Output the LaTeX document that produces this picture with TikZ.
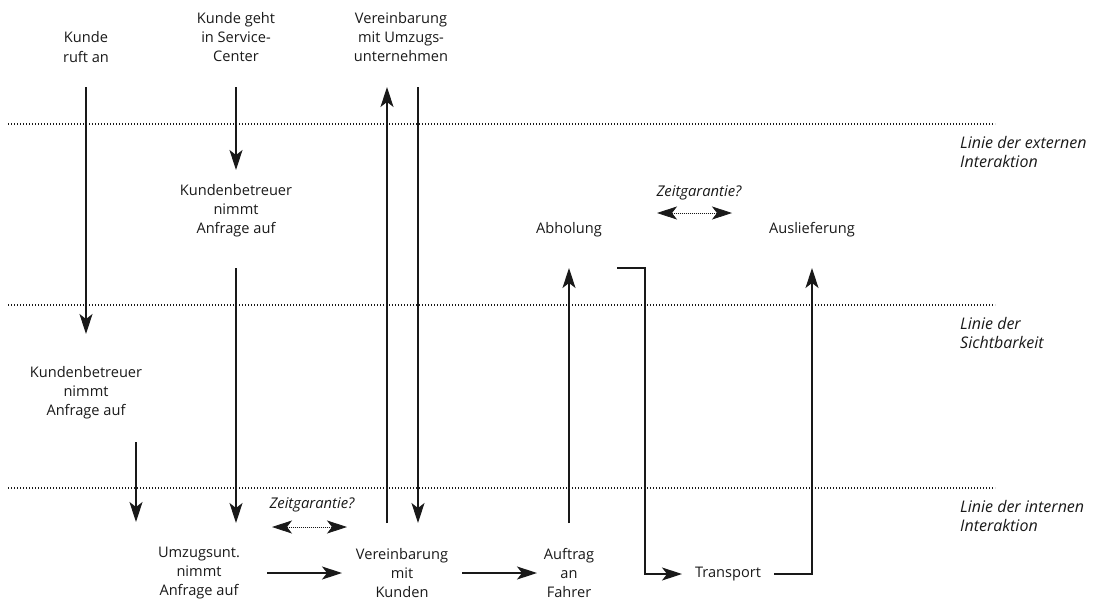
\documentclass[tikz,border=0pt]{standalone}
\usepackage{fontspec}
\setmainfont{Open Sans}
\usetikzlibrary{arrows.meta,calc}
\begin{document}
\begin{tikzpicture}[x=1pt,y=-1pt,
  lbl/.style={align=center,font=\fontsize{14.6}{19.2}\selectfont,inner sep=0pt,text=black!90},
  zg/.style={lbl,font=\fontsize{14.8}{19}\selectfont\itshape},
  side/.style={align=left,anchor=west,font=\fontsize{16}{18.5}\selectfont\itshape,inner sep=0pt,text=black!90},
  arr/.style={-{Stealth[length=20pt,width=13pt,inset=5pt]},line width=1.1pt,draw=black!90},
  sep/.style={line width=1.1pt,dash pattern=on 1.1pt off 1.9pt,draw=black!90},
  dbl/.style={{Stealth[length=20pt,width=13pt,inset=5pt]}-{Stealth[length=20pt,width=13pt,inset=5pt]},line width=0.8pt,dash pattern=on 0.8pt off 1.2pt,draw=black!90}
]
\useasboundingbox (0,0) rectangle (1096,603);
% separators
\draw[sep] (8,124) -- (995,124);
\draw[sep] (8,305) -- (995,305);
\draw[sep] (8,488) -- (995,488);
\node[side] (s1) at (960,152) {Linie der externen\\Interaktion};
\node[side] (s2) at (960,333) {Linie der\\Sichtbarkeit};
\node[side] (s3) at (960,516) {Linie der internen\\Interaktion};
% nodes
\node[lbl] (kra) at (86,47) {Kunde\\ruft an};
\node[lbl] (ksc) at (236,37) {Kunde geht\\in Service-\\Center};
\node[lbl] (vmu) at (401,37) {Vereinbarung\\mit Umzugs-\\unternehmen};
\node[lbl] (kbt) at (236,211) {Kundenbetreuer\\nimmt\\Anfrage auf};
\node[lbl] (kbl) at (86,393) {Kundenbetreuer\\nimmt\\Anfrage auf};
\node[lbl] (abh) at (569,230) {Abholung};
\node[lbl] (ausl) at (812,230) {Auslieferung};
\node[zg] (zg1) at (699,193) {Zeitgarantie?};
\node[zg] (zg2) at (312,505) {Zeitgarantie?};
\node[lbl] (umz) at (199,573) {Umzugsunt.\\nimmt\\Anfrage auf};
\node[lbl] (vmk) at (402,573) {Vereinbarung\\mit\\Kunden};
\node[lbl] (auf) at (569,573) {Auftrag\\an\\Fahrer};
\node[lbl] (tra) at (728,574) {Transport};
% connectors
\draw[arr,shorten <=40pt,shorten >=59pt] (kra.center) -- (kbl.center);
\draw[arr,shorten <=50pt,shorten >=41pt] (ksc.center) -- (kbt.center);
\draw[arr,shorten <=57pt,shorten >=50pt] (kbt.center) -- (kbt.center |- umz.center);
\draw[arr] ($(kbl.center)+(50,49)$) -- ($(umz.center)+(-63,-51)$);
\draw[arr] ($(vmk.center)+(-15,-50)$) -- ($(vmu.center)+(-14,50)$);
\draw[arr] ($(vmu.center)+(17,50)$) -- ($(vmk.center)+(16,-50)$);
\draw[arr,shorten <=68pt,shorten >=60pt] (umz.center) -- (vmk.center);
\draw[arr,shorten <=60pt,shorten >=32pt] (vmk.center) -- (auf.center);
\draw[arr,shorten <=50pt,shorten >=38pt] (auf.center) -- (abh.center);
\draw[arr,shorten >=46pt] ($(abh.center)+(48,38)$) -- ++(28,0) |- (tra.center);
\draw[arr,shorten <=46pt,shorten >=38pt] (tra.center) -| (ausl.center);
\draw[dbl] ($(zg1.center)+(-42,20)$) -- ($(zg1.center)+(33,20)$);
\draw[dbl] ($(zg2.center)+(-40,22)$) -- ($(zg2.center)+(35,22)$);
\end{tikzpicture}
\end{document}
